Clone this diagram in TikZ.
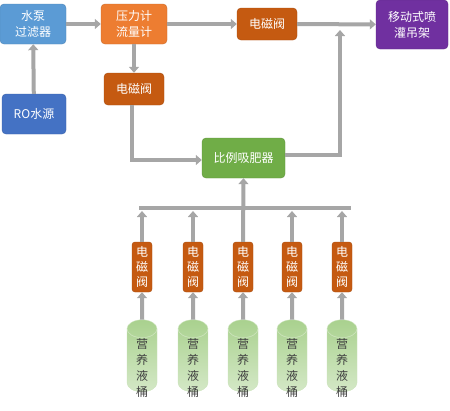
\documentclass[tikz,border=0pt]{standalone}
\usepackage{fontspec}
\setmainfont{Noto Sans CJK SC}
\usepackage{tikz}
\usetikzlibrary{arrows.meta,positioning,calc,shapes.geometric}
\definecolor{fsky}{HTML}{5B9BD5}
\definecolor{fblue}{HTML}{4472C4}
\definecolor{forange}{HTML}{ED7D31}
\definecolor{frust}{HTML}{C55A11}
\definecolor{fpurple}{HTML}{7030A0}
\definecolor{fgreen}{HTML}{70AD47}
\definecolor{ftank}{HTML}{A9D18E}
\definecolor{fpipe}{HTML}{A6A6A6}
\tikzset{
  block/.style  = {rounded corners=4pt, text=white, align=center, inner sep=1pt,
                   minimum width=66pt, minimum height=40pt,
                   font=\fontsize{12}{16}\selectfont},
  valve/.style  = {block, fill=frust, draw=frust!85!black,
                   minimum width=60pt, minimum height=32pt},
  minivalve/.style = {block, fill=frust, draw=frust!85!black, rounded corners=3pt,
                   minimum width=20pt, minimum height=50pt,
                   font=\fontsize{12}{15}\selectfont},
  tank/.style   = {cylinder, shape border rotate=90, aspect=0.6,
                   minimum width=30pt, minimum height=72pt, inner sep=1pt,
                   top color=ftank, bottom color=ftank!50!white,
                   draw=ftank!60!white},
  tanktext/.style = {align=center, text=black!75, yshift=-6pt, inner sep=0pt,
                   font=\fontsize{12}{16}\selectfont},
  pipe/.style   = {-{Triangle[length=6pt,width=10pt]}, line width=4pt, draw=fpipe},
  bus/.style    = {line width=4pt, draw=fpipe},
}
\begin{document}
\begin{tikzpicture}[x=1pt,y=-1pt]
\useasboundingbox (0,0) rectangle (450,410);
% upper part
\node[block,fill=fsky,draw=fsky!85!black] (pump) at (33,24) {水泵\\过滤器};
\node[block,fill=fblue,draw=fblue!85!black,minimum width=64pt] (ro) at (34,114) {RO水源};
\node[block,fill=forange,draw=forange!85!black] (meter) at (134,24) {压力计\\流量计};
\node[valve] (valveA) at (267,24) {电磁阀};
\node[block,fill=fpurple,draw=fpurple!85!black,minimum width=72pt,minimum height=49pt] (rack) at (412,24.5) {移动式喷\\灌吊架};
\node[valve] (valveB) at (134,89) {电磁阀};
\node[block,fill=fgreen,draw=fgreen!85!black,minimum width=83pt] (mixer) at (243.5,158) {比例吸肥器};
\coordinate (rise) at (340,30);
\coordinate (busL) at (139,208);
\coordinate (busR) at (351,208);
\draw[pipe] (ro) -- (pump);
\draw[pipe] (pump) -- (meter);
\draw[pipe] (meter) -- (valveA);
\draw[pipe] (meter) -- (valveB);
\draw[pipe] (valveA) -- (rack);
\draw[pipe] ([xshift=-2pt]valveB.south) |- ([yshift=-2pt]mixer.west);
\draw[pipe] ([yshift=3pt]mixer.east) -| (rise);
\draw[bus] (busL) -- (busR);
% nutrient tanks
\foreach \i/\x in {1/142,2/193,3/243,4/292,5/342}{
  \node[minivalve] (sv\i) at (\x,267) {电\\磁\\阀};
  \node[tank,label={[tanktext]center:营\\养\\液\\桶}] (tank\i) at (\x,362) {\hspace*{28pt}};
  \draw[draw=ftank!60!white] (tank\i.north) ++(-15,9)
    arc[start angle=180, end angle=360, x radius=15pt, y radius=9pt];
  \draw[pipe] (tank\i.north) -- (sv\i.south);}
\foreach \i in {1,2,4,5}
  \draw[pipe,shorten >=3pt] (sv\i.north) -- (sv\i.north |- busL);
\draw[pipe] (sv3.north) -- (mixer.south);
\end{tikzpicture}
\end{document}
